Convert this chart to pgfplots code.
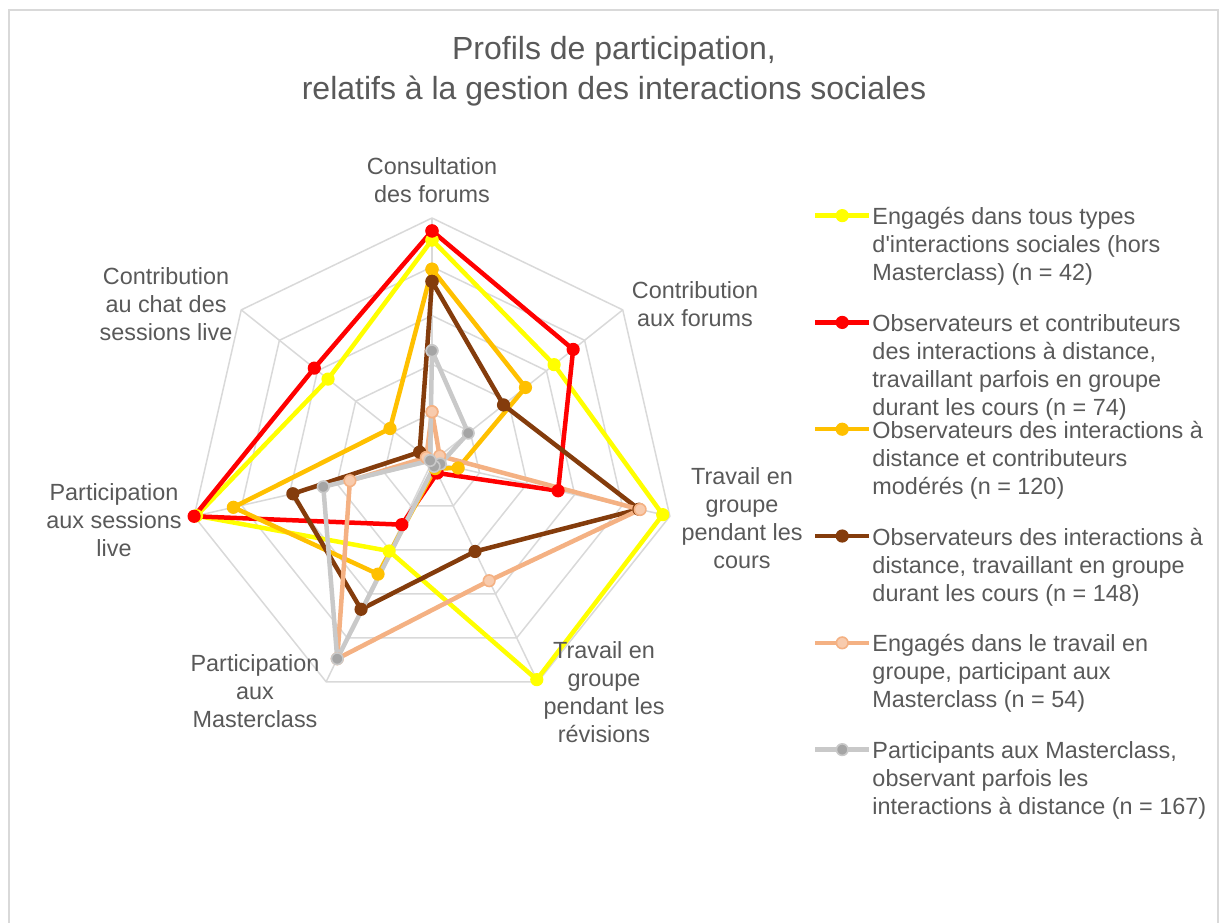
\documentclass[border=0pt]{standalone}
\usepackage{fontspec}
\setmainfont{Liberation Sans}
\usepackage{pgfplots}
\pgfplotsset{compat=1.18}
\usepgfplotslibrary{polar}

\definecolor{cyel}{HTML}{FFFF00}
\definecolor{cred}{HTML}{FF0000}
\definecolor{corg}{HTML}{FFC000}
\definecolor{cbrn}{HTML}{843C0C}
\definecolor{csal}{HTML}{F4B183}
\definecolor{csalf}{HTML}{F8CBAD}
\definecolor{cgry}{HTML}{C9C9C9}
\definecolor{cgryf}{HTML}{A5A5A5}
\definecolor{cgrid}{HTML}{D9D9D9}
\definecolor{ctxt}{HTML}{595959}

\newcommand\lab{\fontsize{11.7}{14}\selectfont}
% legend entry: baseline on first line
\newcommand\entry[1]{\parbox[t]{175pt}{\strut#1}}

\begin{document}
\begin{tikzpicture}[x=1pt,y=1pt]
\path[use as bounding box] (0,0) rectangle (609.5,461);
\draw[cgrid, line width=0.75pt] (4.5,-5) rectangle (609,456);

\begin{polaraxis}[
  at={(216pt,230pt)}, anchor=center,
  width=244pt, height=244pt, scale only axis,
  xmin=0, xmax=360, ymin=0, ymax=100,
  hide axis, clip=false,
  every axis plot/.append style={line width=2.25pt, line join=round, mark=*, mark size=2.9pt},
  legend style={at={(1.2807,1.0348)}, anchor=north west, draw=none, fill=none,
    inner sep=0pt, outer sep=0pt, row sep=38.1pt, column sep=-1.5pt, font=\lab, text=ctxt,
    cells={anchor=base west, inner sep=0pt}},
  legend image code/.code={\draw[#1,mark repeat=2,mark phase=2] plot coordinates {(0pt,4.5pt)(13.5pt,4.5pt)(27pt,4.5pt)};}
]
% heptagon grid
\pgfplotsinvokeforeach{20,40,60,80,100}{
  \addplot[cgrid, line width=0.75pt, mark=none, forget plot] coordinates
    {(90,#1)(38.571,#1)(347.143,#1)(295.714,#1)(244.286,#1)(192.857,#1)(141.429,#1)(90,#1)};
}
\pgfplotsinvokeforeach{90,38.571,347.143,295.714,244.286,192.857,141.429}{
  \addplot[cgrid, line width=0.75pt, mark=none, forget plot] coordinates {(#1,0)(#1,100)};
}

\addplot[cyel, mark options={solid, line width=0.8pt, fill=cyel}] coordinates
  {(90,91)(38.571,64)(347.143,97)(295.714,99)(244.286,40.5)(192.857,99)(141.429,54.5)(90,91)};
\addlegendentry{\entry{Engagés dans tous types\\d\textquotesingle interactions sociales (hors\\Masterclass) (n = 42)}}

\addplot[cred, mark options={solid, line width=0.8pt, fill=cred}] coordinates
  {(90,94.7)(38.571,74)(347.143,53)(295.714,5)(244.286,28.5)(192.857,100)(141.429,61.7)(90,94.7)};
\addlegendentry{\entry{Observateurs et contributeurs\\des interactions à distance,\\travaillant parfois en groupe\\durant les cours (n = 74)}}

\addplot[corg, mark options={solid, line width=0.8pt, fill=corg}] coordinates
  {(90,79)(38.571,49)(347.143,11)(295.714,3)(244.286,51)(192.857,83.5)(141.429,22)(90,79)};
\addlegendentry{\entry{Observateurs des interactions à\\distance et contributeurs\\modérés (n = 120)}}

\addplot[cbrn, mark options={solid, line width=0.8pt, fill=cbrn}] coordinates
  {(90,74)(38.571,37.5)(347.143,87)(295.714,40.7)(244.286,67)(192.857,58.5)(141.429,6.5)(90,74)};
\addlegendentry{\entry{Observateurs des interactions à\\distance, travaillant en groupe\\durant les cours (n = 148)}}

\addplot[csal, mark options={solid, line width=0.8pt, fill=csalf}] coordinates
  {(90,20.6)(38.571,4)(347.143,87.5)(295.714,54)(244.286,89.5)(192.857,34.5)(141.429,3)(90,20.6)};
\addlegendentry{\entry{Engagés dans le travail en\\groupe, participant aux\\Masterclass (n = 54)}}

\addplot[cgry, mark options={solid, line width=0.8pt, fill=cgryf}] coordinates
  {(90,45.6)(38.571,19)(347.143,3.5)(295.714,2)(244.286,89.5)(192.857,45.7)(141.429,1)(90,45.6)};
\addlegendentry{\entry{Participants aux Masterclass,\\observant parfois les\\interactions à distance (n = 167)}}
\end{polaraxis}

\begin{scope}[every node/.style={align=center, font=\lab, text=ctxt}]
\node at (216,371) {Consultation\\des forums};
\node at (347.5,309) {Contribution\\aux forums};
\node at (371,202) {Travail en\\groupe\\pendant les\\cours};
\node at (302,115) {Travail en\\groupe\\pendant les\\révisions};
\node at (127.5,115.5) {Participation\\aux\\Masterclass};
\node at (57,201) {Participation\\aux sessions\\live};
\node at (83,309) {Contribution\\au chat des\\sessions live};
\end{scope}
\node[align=center, font=\fontsize{16}{20}\selectfont, text=ctxt] at (307,425.5)
  {Profils de participation,\\relatifs à la gestion des interactions sociales};
\end{tikzpicture}
\end{document}
